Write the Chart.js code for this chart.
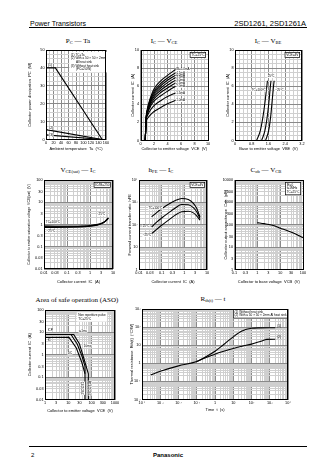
<!DOCTYPE html>
<html>
<head>
<meta charset="utf-8">
<title>2SD1261, 2SD1261A</title>
<script src="https://cdn.jsdelivr.net/npm/chart.js@4.4.1/dist/chart.umd.min.js"></script>
<style>
  html, body { margin: 0; padding: 0; background: #fff; }
  body { position: relative; width: 336px; height: 474px; overflow: hidden; font-family: "Liberation Sans", Arial, sans-serif; color: #000; }
  canvas { position: absolute; }
  .txt { position: absolute; white-space: nowrap; line-height: 1; }
  .rule { position: absolute; left: 29px; width: 278px; height: 1px; background: #000; }
  .ttl { position: absolute; white-space: nowrap; transform: translate(-50%, -50%); font-family: "Liberation Serif", "DejaVu Serif", serif; font-size: 7px; line-height: 1; }
  .ttl sub { font-size: 4.6px; vertical-align: -1px; }
</style>
</head>
<body>
<div class="txt" style="left:30px;top:19.5px;font-size:7px">Power Transistors</div>
<div class="txt" style="right:30px;top:19.5px;font-size:7.5px">2SD1261, 2SD1261A</div>
<div class="rule" style="top:27px;height:1.3px"></div>

<div class="ttl" style="left:78px;top:42px">P<sub>C</sub> — Ta</div>
<div class="ttl" style="left:164px;top:42px">I<sub>C</sub> — V<sub>CE</sub></div>
<div class="ttl" style="left:268px;top:42px">I<sub>C</sub> — V<sub>BE</sub></div>
<div class="ttl" style="left:78px;top:171px">V<sub>CE(sat)</sub> — I<sub>C</sub></div>
<div class="ttl" style="left:161px;top:171px">h<sub>FE</sub> — I<sub>C</sub></div>
<div class="ttl" style="left:266px;top:171px">C<sub>ob</sub> — V<sub>CB</sub></div>
<div class="ttl" style="left:77px;top:300px">Area of safe operation (ASO)</div>
<div class="ttl" style="left:213px;top:300px">R<sub>th(t)</sub> — t</div>

<div class="rule" style="top:446px;height:1.2px"></div>
<div class="txt" style="left:31px;top:452px;font-size:6px">2</div>
<div class="txt" style="left:168px;top:452px;font-size:6px;font-weight:bold;transform:translateX(-50%)">Panasonic</div>

<script>
// ---------- data ----------

// PC - Ta
const pcTemp = [0, 25, 150];
const pcTcTa = [40, 40, 0];
const pcSinkTemp = [0, 150];
const pcSink = [5.5, 0];
const pcFreeTemp = [0, 150];
const pcFree = [2.6, 0];
const pcXLabels = [0, 20, 40, 60, 80, 100, 120, 140, 160];
const pcYLabels = [0, 10, 20, 30, 40, 50];

// IC - VCE (Tc = 25°C)
const vceVolts = [0.7, 0.85, 1.0, 1.5, 2, 3, 4, 5.2];
const ibNames = ['IB=5.0mA', '4.5mA', '4.0mA', '3.5mA', '3.0mA', '2.5mA', '2.0mA', '1.5mA', '1.0mA'];
const icAtIb = [
  [0, 2.6, 3.4, 4.8, 5.7, 6.6, 7.2, 7.85],
  [0, 2.6, 3.35, 4.65, 5.45, 6.3, 6.9, 7.48],
  [0, 2.55, 3.3, 4.5, 5.25, 6.05, 6.65, 7.22],
  [0, 2.5, 3.2, 4.35, 5.05, 5.8, 6.4, 6.96],
  [0, 2.5, 3.1, 4.2, 4.85, 5.55, 6.1, 6.67],
  [0, 2.45, 3.0, 4.0, 4.6, 5.3, 5.8, 6.37],
  [0, 2.4, 2.9, 3.8, 4.35, 4.95, 5.45, 6.0],
  [0, 2.3, 2.7, 3.4, 3.85, 4.4, 4.85, 5.26],
  [0, 2.1, 2.4, 2.85, 3.2, 3.65, 4.05, 4.44]
];
const vceXLabels = [0, 2, 4, 6, 8, 10];
const icYLabels = [0, 2, 4, 6, 8, 10];

// IC - VBE (VCE = 4V)
const vbeCurrent = [0, 1, 2, 3, 4, 5, 6, 6.6];
const vbeHot = [1.03, 1.2, 1.29, 1.36, 1.42, 1.47, 1.52, 1.55];
const vbeRoom = [1.27, 1.42, 1.5, 1.56, 1.61, 1.65, 1.69, 1.72];
const vbeCold = [1.46, 1.6, 1.67, 1.72, 1.76, 1.8, 1.84, 1.87];
const vbeXLabels = [0, 0.8, 1.6, 2.4, 3.2];

// VCE(sat) - IC
const satCurrent = [0.01, 0.03, 0.1, 0.3, 1, 2, 3, 4, 5, 6.3];
const satHot = [0.86, 0.84, 0.83, 0.84, 0.9, 1.0, 1.1, 1.25, 1.5, 1.9];
const satRoom = [0.8, 0.79, 0.79, 0.8, 0.86, 0.96, 1.08, 1.25, 1.5, 1.95];
const satCold = [0.74, 0.74, 0.75, 0.77, 0.84, 0.94, 1.07, 1.26, 1.55, 2.0];
const ampLabels = [0.01, 0.03, 0.1, 0.3, 1, 3, 10];
const satYLabels = [0.01, 0.03, 0.1, 0.3, 1, 3, 10, 30, 100];

// hFE - IC
const hfeCurrent = [0.036, 0.06, 0.1, 0.2, 0.4, 0.76, 1.5, 2.5, 3.5, 4.9];
const hfeHot = [224, 350, 520, 820, 1200, 1500, 1350, 900, 550, 220];
const hfeRoom = [80, 130, 200, 340, 560, 800, 780, 580, 380, 190];
const hfeCold = [40, 62, 95, 160, 270, 380, 400, 340, 250, 160];
const hfeYLabels = [1, 10, 100, 1000, 10000];
const hfeYText = ['1', '10', '10²', '10³', '10⁴'];

// Cob - VCB
const cobVolts = [1, 2, 5, 10, 20, 50, 100];
const cobPf = [125, 112, 92, 70, 55, 38, 26];
const cobXLabels = [0.1, 0.3, 1, 3, 10, 30, 100];
const cobYLabels = [1, 3, 10, 30, 100, 300, 1000, 3000, 10000];

// ASO
const asoPulseV = [1, 17, 30, 48, 72, 72];
const asoPulseA = [8, 8, 3, 0.6, 0.14, 0.01];
const asoMidV = [13, 24, 38, 52, 52];
const asoMidA = [8, 3, 0.9, 0.3, 0.14];
const asoDcV = [1, 10.7, 22, 38, 52, 52];
const asoDcA = [6, 6, 2, 0.45, 0.14, 0.01];
const asoXLabels = [1, 3, 10, 30, 100, 300, 1000];
const asoYLabels = [0.01, 0.03, 0.1, 0.3, 1, 3, 10, 30, 100];

// Rth(t) - t
const rthFreeT = [3e-4, 1e-3, 1e-2, 0.1, 0.3, 1, 3, 10, 30, 100, 300, 1000, 2000];
const rthFreeR = [0.23, 0.36, 0.72, 1.25, 2.2, 4.6, 11, 29, 60, 86, 91, 92, 92];
const rthSinkT = [0.1, 0.3, 1, 3, 10, 30, 100, 300, 700, 2000];
const rthSinkR = [1.25, 2.0, 3.2, 4.6, 6.6, 8.8, 11.5, 16, 21, 21.5];
const rthXLabels = [1e-4, 1e-3, 1e-2, 1e-1, 1, 10, 100, 1000, 10000];
const rthXText = ['10⁻⁴', '10⁻³', '10⁻²', '10⁻¹', '1', '10', '10²', '10³', '10⁴'];
const rthYLabels = [0.01, 0.1, 1, 10, 100, 1000];
const rthYText = ['10⁻²', '10⁻¹', '1', '10', '10²', '10³'];

// ---------- helpers ----------
const FONT = '"Liberation Sans", Arial, sans-serif';
const MAJOR = '#8a8a8a';
const MINOR = '#cfcfcf';
const PAD_T = 6, PAD_R = 10;

const pts = (xs, ys) => xs.map((x, i) => ({ x: x, y: ys[i] }));
const sameLog = (a, b) => Math.abs(Math.log10(a) - Math.log10(b)) < 1e-6;
const isDecade = v => Math.abs(Math.log10(v) - Math.round(Math.log10(v))) < 1e-6;

function logGrid(min, max) {
  const out = [];
  for (let e = Math.floor(Math.log10(min)); e <= Math.ceil(Math.log10(max)); e++) {
    for (let m = 1; m < 10; m++) {
      const v = +(m * Math.pow(10, e)).toPrecision(6);
      if (v >= min * 0.999999 && v <= max * 1.000001) out.push(v);
    }
  }
  return out;
}

function tickFont() { return { family: FONT, size: 3.8 }; }
function titleOpt(text, size) {
  return { display: true, text: text, color: '#000', padding: 0, font: { family: FONT, size: size || 4 } };
}

function linAxis(min, max, step, labels, title, tsize) {
  const major = v => labels.some(l => Math.abs(l - v) < 1e-6);
  return {
    type: 'linear', min: min, max: max,
    afterBuildTicks: s => {
      const t = [];
      for (let v = min; v <= max + step / 1000; v += step) t.push({ value: +v.toFixed(6) });
      s.ticks = t;
    },
    ticks: { color: '#000', font: tickFont(), padding: 1.5, autoSkip: false, maxRotation: 0, minRotation: 0,
      callback: v => major(v) ? String(v) : '' },
    grid: { drawTicks: false, lineWidth: 1, color: c => (c.tick && major(c.tick.value)) ? MAJOR : MINOR },
    border: { display: false },
    title: titleOpt(title, tsize)
  };
}

function logAxis(min, max, labels, texts, title, tsize) {
  return {
    type: 'logarithmic', min: min, max: max,
    afterBuildTicks: s => { s.ticks = logGrid(min, max).map(v => ({ value: v })); },
    ticks: { color: '#000', font: tickFont(), padding: 1.5, autoSkip: false, maxRotation: 0, minRotation: 0,
      callback: v => {
        const i = labels.findIndex(l => sameLog(l, v));
        return i < 0 ? '' : (texts ? texts[i] : String(labels[i]));
      } },
    grid: { drawTicks: false, lineWidth: 1, color: c => (c.tick && isDecade(c.tick.value)) ? MAJOR : MINOR },
    border: { display: false },
    title: titleOpt(title, tsize)
  };
}

function line(data, smooth) {
  return { data: data, borderColor: '#000', borderWidth: 1.1, pointRadius: 0, fill: false,
    tension: 0, cubicInterpolationMode: smooth ? 'monotone' : 'default' };
}

// frame, curve labels and small legend boxes
const frame = {
  id: 'frame',
  afterDatasetsDraw(chart, args, o) {
    const ctx = chart.ctx, a = chart.chartArea, xs = chart.scales.x, ys = chart.scales.y;
    ctx.save();
    (o.labels || []).forEach(n => {
      const size = n.size || 3.4;
      const x = xs.getPixelForValue(n.x), y = ys.getPixelForValue(n.y);
      ctx.font = size + 'px ' + FONT;
      ctx.textBaseline = 'middle';
      ctx.textAlign = n.align || 'left';
      ctx.save();
      ctx.translate(x, y);
      if (n.rot) ctx.rotate(-Math.PI / 2);
      if (n.bg) {
        const w = ctx.measureText(n.t).width;
        const x0 = ctx.textAlign === 'left' ? 0 : ctx.textAlign === 'right' ? -w : -w / 2;
        ctx.fillStyle = '#fff';
        ctx.fillRect(x0 - 0.4, -size * 0.55, w + 0.8, size * 1.1);
      }
      ctx.fillStyle = '#000';
      ctx.fillText(n.t, 0, 0);
      ctx.restore();
    });
    if (o.box) {
      const b = o.box, size = b.size || 3.4, lh = size * 1.2;
      ctx.font = size + 'px ' + FONT;
      const w = Math.max(...b.lines.map(l => ctx.measureText(l).width)) + 3;
      const h = b.lines.length * lh + 2;
      let x0, y0;
      if (b.at) { x0 = xs.getPixelForValue(b.at.x); y0 = ys.getPixelForValue(b.at.y); }
      else { x0 = a.right - (b.inset == null ? 2 : b.inset) - w; y0 = a.top + (b.inset == null ? 2 : b.inset); }
      ctx.fillStyle = '#fff';
      ctx.fillRect(x0, y0, w, h);
      if (b.border !== false) {
        ctx.strokeStyle = '#000'; ctx.lineWidth = 0.7;
        ctx.strokeRect(x0 + 0.35, y0 + 0.35, w - 0.7, h - 0.7);
      }
      ctx.fillStyle = '#000'; ctx.textAlign = 'left'; ctx.textBaseline = 'middle';
      b.lines.forEach((l, i) => ctx.fillText(l, x0 + 1.5, y0 + 1 + lh * (i + 0.5)));
    }
    ctx.strokeStyle = '#000';
    ctx.lineWidth = 1;
    ctx.strokeRect(Math.round(a.left) + 0.5, Math.round(a.top) + 0.5, Math.round(a.width) - 1, Math.round(a.height) - 1);
    ctx.restore();
  }
};
Chart.register(frame);

function place(box, yW, xH, xAxis, yAxis, datasets, notes) {
  const c = document.createElement('canvas');
  const w = box.R - box.L + yW + PAD_R, h = box.B - box.T + PAD_T + xH;
  c.width = Math.ceil(w); c.height = Math.ceil(h);
  c.style.left = (box.L - yW) + 'px';
  c.style.top = (box.T - PAD_T) + 'px';
  document.body.appendChild(c);
  xAxis.afterFit = s => { s.height = xH; };
  yAxis.afterFit = s => { s.width = yW; };
  new Chart(c, {
    type: 'line',
    data: { datasets: datasets },
    options: {
      responsive: false, animation: false, events: [], devicePixelRatio: 1,
      layout: { padding: { top: PAD_T, right: PAD_R, left: 0, bottom: 0 } },
      plugins: { legend: { display: false }, tooltip: { enabled: false }, frame: notes || {} },
      scales: { x: xAxis, y: yAxis }
    }
  });
}

// ---------- charts ----------

// PC - Ta
place({ L: 46, T: 50, R: 106, B: 139 }, 19, 11.5,
  linAxis(0, 160, 10, pcXLabels, 'Ambient temperature  Ta  (°C)'),
  linAxis(0, 50, 2.5, pcYLabels, 'Collector power dissipation  PC  (W)'),
  [line(pts(pcTemp, pcTcTa)), line(pts(pcSinkTemp, pcSink)), line(pts(pcFreeTemp, pcFree))],
  {
    labels: [
      { x: 5, y: 41.6, t: '(1)', bg: true },
      { x: 8, y: 6.4, t: '(2)', bg: true },
      { x: 8, y: 2.4, t: '(3)', bg: true }
    ],
    box: { at: { x: 62, y: 49 }, border: false, size: 3.1,
      lines: ['(1) TC=Ta', '(2) With a 50 × 50 × 2mm', '      Al heat sink', '(3) Without heat sink', '      (PC=2.0W)'] }
  });

// IC - VCE
place({ L: 140, T: 50, R: 207, B: 140 }, 10.5, 10.5,
  linAxis(0, 10, 0.5, vceXLabels, 'Collector to emitter voltage  VCE  (V)'),
  linAxis(0, 10, 0.5, icYLabels, 'Collector current  IC  (A)'),
  icAtIb.map(c => line(pts(vceVolts, c), true)),
  {
    labels: ibNames.map((t, i) => ({ x: 5.3, y: icAtIb[i][icAtIb[i].length - 1], t: t, size: 3, bg: true })),
    box: { lines: ['TC=25°C'], size: 3.2 }
  });

// IC - VBE
place({ L: 235, T: 50, R: 302, B: 140 }, 10, 10.5,
  linAxis(0, 3.2, 0.2, vbeXLabels, 'Base to emitter voltage  VBE  (V)'),
  linAxis(0, 10, 0.5, icYLabels, 'Collector current  IC  (A)'),
  [line(pts(vbeHot, vbeCurrent), true), line(pts(vbeRoom, vbeCurrent), true), line(pts(vbeCold, vbeCurrent), true)],
  {
    labels: [
      { x: 1.72, y: 7.1, t: '25°C', align: 'center', size: 3, bg: true },
      { x: 1.47, y: 5.6, t: 'TC=100°C', align: 'right', size: 3, bg: true },
      { x: 1.92, y: 5.6, t: '−25°C', size: 3, bg: true }
    ],
    box: { lines: ['VCE=4V'], size: 3.2 }
  });

// VCE(sat) - IC
place({ L: 44, T: 180, R: 113, B: 269 }, 17, 15,
  logAxis(0.01, 10, ampLabels, null, 'Collector current  IC  (A)'),
  logAxis(0.01, 100, satYLabels, null, 'Collector to emitter saturation voltage  VCE(sat)  (V)', 3.5),
  [line(pts(satCurrent, satHot), true), line(pts(satCurrent, satRoom), true), line(pts(satCurrent, satCold), true)],
  {
    labels: [
      { x: 0.012, y: 1.3, t: 'TC=100°C', size: 3, bg: true },
      { x: 0.013, y: 0.5, t: '−25°C', size: 3, bg: true },
      { x: 3.3, y: 2.9, t: '25°C', align: 'center', size: 3, bg: true }
    ],
    box: { lines: ['IC/IB=250'], size: 3.2 }
  });

// hFE - IC
place({ L: 139, T: 180, R: 207, B: 269 }, 12, 14.5,
  logAxis(0.01, 10, ampLabels, null, 'Collector current  IC  (A)'),
  logAxis(1, 10000, hfeYLabels, hfeYText, 'Forward current transfer ratio  hFE'),
  [line(pts(hfeCurrent, hfeHot), true), line(pts(hfeCurrent, hfeRoom), true), line(pts(hfeCurrent, hfeCold), true)],
  {
    labels: [
      { x: 0.026, y: 560, t: 'TC=100°C', size: 3, bg: true },
      { x: 0.0145, y: 85, t: '25°C', size: 3, bg: true },
      { x: 0.0145, y: 34, t: '−25°C', size: 3, bg: true }
    ],
    box: { lines: ['VCE=4V'], size: 3.2 }
  });

// Cob - VCB
place({ L: 234, T: 180, R: 302, B: 269 }, 11.5, 14.5,
  logAxis(0.1, 100, cobXLabels, null, 'Collector to base voltage  VCB  (V)'),
  logAxis(1, 10000, cobYLabels, null, 'Collector output capacitance  Cob  (pF)'),
  [line(pts(cobVolts, cobPf), true)],
  { box: { lines: ['IE=0', 'f=1MHz', 'TC=25°C'], size: 3.1 } });

// ASO
place({ L: 45, T: 310, R: 115, B: 399 }, 18, 13.5,
  logAxis(1, 1000, asoXLabels, null, 'Collector to emitter voltage  VCE  (V)'),
  logAxis(0.01, 100, asoYLabels, null, 'Collector current  IC  (A)'),
  [line(pts(asoPulseV, asoPulseA)), line(pts(asoMidV, asoMidA)), line(pts(asoDcV, asoDcA))],
  {
    labels: [
      { x: 1.3, y: 12, t: 'ICP', size: 3 },
      { x: 1.3, y: 4.3, t: 'IC', size: 3 },
      { x: 28, y: 11.5, t: 't=1ms', size: 3, bg: true },
      { x: 46, y: 2.5, t: '10ms', size: 3, bg: true },
      { x: 14.5, y: 1.2, t: 'DC', align: 'right', size: 3, bg: true },
      { x: 44, y: 0.032, t: '2SD1261', align: 'center', rot: true, size: 3, bg: true },
      { x: 84, y: 0.032, t: '2SD1261A', align: 'center', rot: true, size: 3, bg: true }
    ],
    box: { at: { x: 23, y: 80 }, border: false, size: 3.1, lines: ['Non repetitive pulse', 'TC=25°C'] }
  });

// Rth(t) - t
place({ L: 142, T: 309, R: 288, B: 399 }, 13, 12.5,
  logAxis(1e-4, 1e4, rthXLabels, rthXText, 'Time  t  (s)'),
  logAxis(0.01, 1000, rthYLabels, rthYText, 'Thermal resistance  Rth(t)  (°C/W)'),
  [line(pts(rthFreeT, rthFreeR), true), line(pts(rthSinkT, rthSinkR), true)],
  {
    labels: [
      { x: 2600, y: 115, t: '(1)', size: 3 },
      { x: 2600, y: 27, t: '(2)', size: 3 }
    ],
    box: { inset: 0, size: 3.1, lines: ['(1) Without heat sink', '(2) With a 50 × 50 × 2mm Al heat sink'] }
  });
</script>
</body>
</html>
